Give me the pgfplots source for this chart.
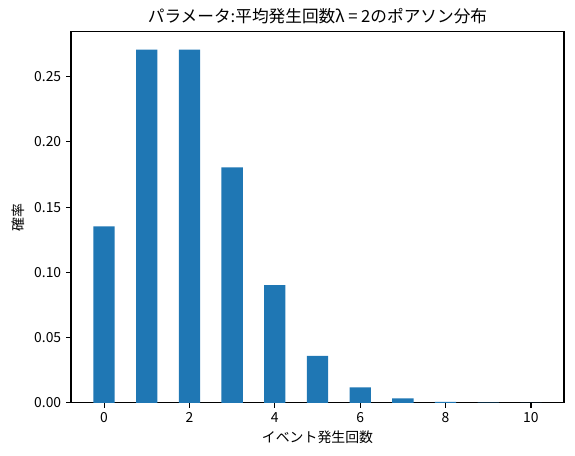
\documentclass[border=0pt]{standalone}
\usepackage{fontspec}
\setmainfont{Noto Sans CJK JP}
\usepackage{pgfplots}
\pgfplotsset{compat=1.18}
\definecolor{mplblue}{HTML}{1F77B4}
\begin{document}
\begin{tikzpicture}
\begin{axis}[
  at={(0,0)}, anchor=south west,
  scale only axis, width=355pt, height=267.1pt,
  xmin=-0.775, xmax=10.775, ymin=0, ymax=0.28425,
  xtick={0,2,4,6,8,10},
  ytick={0,0.05,0.1,0.15,0.2,0.25},
  yticklabel style={/pgf/number format/.cd, fixed, fixed zerofill, precision=2},
  /pgf/number format/assume math mode=true,
  tick label style={font=\fontsize{10}{12}\selectfont},
  tick align=outside, xtick pos=bottom, ytick pos=left,
  major tick length=3.5pt,
  tick style={black, line width=0.8pt},
  axis line style={line width=0.8pt},
  xlabel={イベント発生回数}, ylabel={確率},
  label style={font=\fontsize{10}{12}\selectfont},
  xlabel style={yshift=1pt},
  ylabel style={yshift=0pt},
  title={パラメータ:平均発生回数λ = 2のポアソン分布},
  title style={font=\fontsize{12}{14}\selectfont, yshift=-4pt},
  ybar, bar width=0.5, bar shift=0pt,
]
\addplot[fill=mplblue, draw=none] coordinates {
(0,0.1353) (1,0.2707) (2,0.2707) (3,0.1804) (4,0.0902) (5,0.0361)
(6,0.0120) (7,0.0034) (8,0.00086) (9,0.00019) (10,0.000038)};
\end{axis}
\path[use as bounding box] (-51.1pt,-38.2pt) rectangle (362.9pt,290.1pt);
\end{tikzpicture}
\end{document}
